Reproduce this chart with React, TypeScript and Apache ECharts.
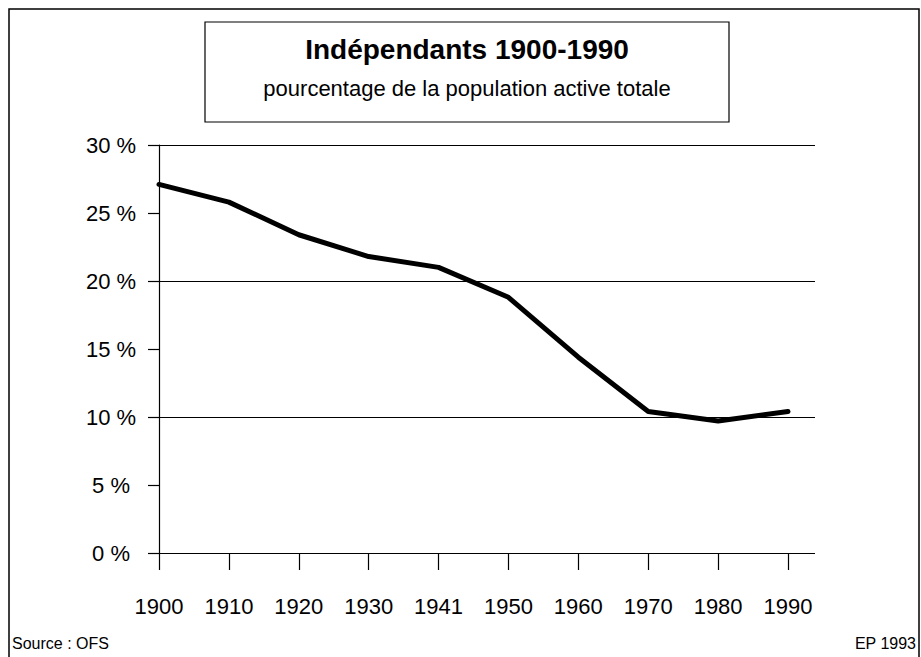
import React, { useEffect, useRef } from "react";
import * as echarts from "echarts";

const years: string[] = ["1900", "1910", "1920", "1930", "1941", "1950", "1960", "1970", "1980", "1990"];
const independants: number[] = [27.1, 25.8, 23.4, 21.8, 21.0, 18.8, 14.4, 10.4, 9.7, 10.4];
const titleText = "Indépendants 1900-1990";
const subtitleText = "pourcentage de la population active totale";
const sourceText = "Source : OFS";
const creditText = "EP 1993";

const FONT = "'Liberation Sans', Arial, Helvetica, sans-serif";

export default function App() {
  const ref = useRef<HTMLDivElement>(null);
  useEffect(() => {
    if (!ref.current) return;
    const chart = echarts.init(ref.current, null, { renderer: "svg" });
    chart.setOption({
      animation: false,
      backgroundColor: "#ffffff",
      textStyle: { fontFamily: FONT, color: "#000" },
      grid: [
        { left: 159, right: 133, top: 145, bottom: 104, containLabel: false },
        { left: 148, right: 106, top: 145, bottom: 104, containLabel: false },
      ],
      xAxis: [
        {
          type: "category",
          gridIndex: 0,
          data: years,
          boundaryGap: false,
          axisLine: { show: false },
          axisTick: { show: true, length: 17, inside: false, lineStyle: { color: "#000", width: 1.2 } },
          axisLabel: {
            show: true,
            color: "#000",
            fontFamily: FONT,
            fontSize: 22,
            margin: 42,
            interval: 0,
          },
          splitLine: { show: false },
        },
        { type: "value", gridIndex: 1, show: false, min: 0, max: 1 },
      ],
      yAxis: [
        {
          type: "value",
          gridIndex: 0,
          min: 0,
          max: 30,
          interval: 5,
          axisLine: { show: true, lineStyle: { color: "#000", width: 1.2 } },
          axisTick: { show: true, length: 11, inside: false, lineStyle: { color: "#000", width: 1.2 } },
          axisLabel: {
            show: true,
            color: "#000",
            fontFamily: FONT,
            fontSize: 22,
            margin: 48,
            align: "center",
            padding: [0, 0, 6, 0],
            formatter: (v: number) => `${v} %`,
          },
          splitLine: { show: false },
        },
        {
          type: "value",
          gridIndex: 1,
          min: 0,
          max: 30,
          interval: 10,
          axisLine: { show: false },
          axisTick: { show: false },
          axisLabel: { show: false },
          splitLine: { show: true, lineStyle: { color: "#000", width: 1.2 } },
        },
      ],
      series: [
        {
          type: "line",
          xAxisIndex: 0,
          yAxisIndex: 0,
          data: independants,
          symbol: "none",
          lineStyle: { color: "#000", width: 5, join: "round", cap: "round" },
          z: 5,
        },
      ],
      graphic: [
        {
          type: "rect",
          shape: { x: 9, y: 9, width: 910, height: 670 },
          style: { fill: "none", stroke: "#000", lineWidth: 1.5 },
          silent: true,
        },
        {
          type: "rect",
          shape: { x: 205, y: 22, width: 524, height: 100 },
          style: { fill: "none", stroke: "#000", lineWidth: 1.2 },
          silent: true,
        },
        {
          type: "text",
          x: 467,
          y: 49,
          style: {
            text: titleText,
            fontFamily: FONT,
            fontSize: 28,
            fontWeight: "bold",
            fill: "#000",
            align: "center",
            verticalAlign: "middle",
          },
        },
        {
          type: "text",
          x: 467,
          y: 88,
          style: {
            text: subtitleText,
            fontFamily: FONT,
            fontSize: 22,
            fill: "#000",
            align: "center",
            verticalAlign: "middle",
          },
        },
        {
          type: "text",
          x: 12,
          y: 643,
          style: {
            text: sourceText,
            fontFamily: FONT,
            fontSize: 16,
            fill: "#000",
            align: "left",
            verticalAlign: "middle",
          },
        },
        {
          type: "text",
          x: 916,
          y: 643,
          style: {
            text: creditText,
            fontFamily: FONT,
            fontSize: 16,
            fill: "#000",
            align: "right",
            verticalAlign: "middle",
          },
        },
      ],
    });
    return () => chart.dispose();
  }, []);
  return (
    <div
      ref={ref}
      style={{ position: "fixed", left: 0, top: 0, width: 921, height: 657, background: "#fff" }}
    />
  );
}
